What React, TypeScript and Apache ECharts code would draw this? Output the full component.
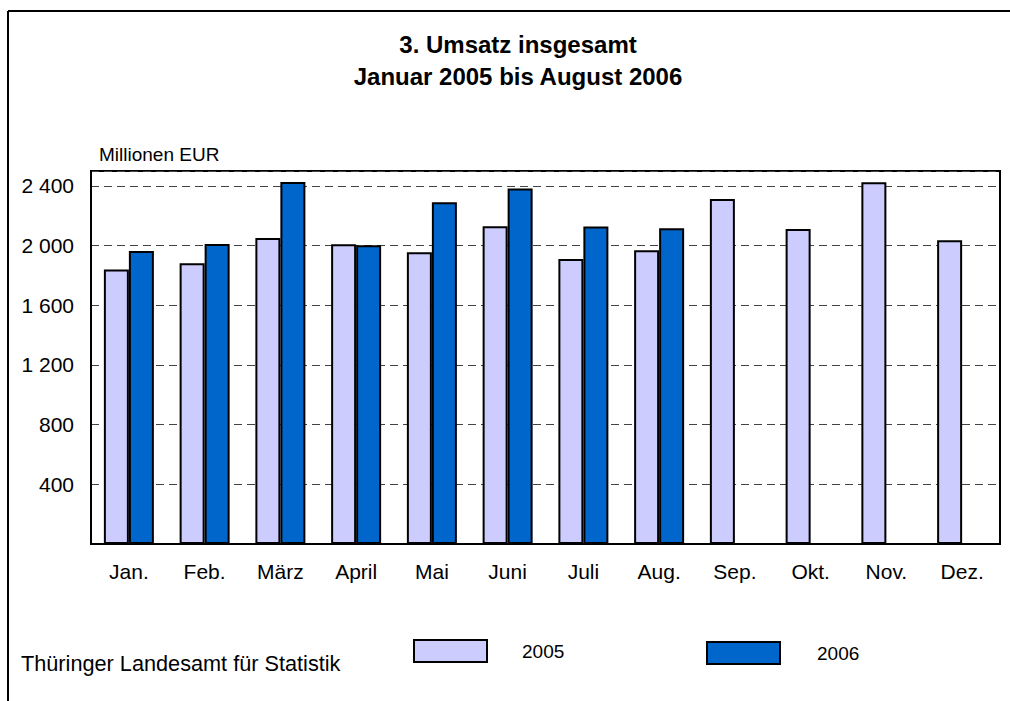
import React, { useEffect, useRef } from "react";
import * as echarts from "echarts";

const months = ["Jan.", "Feb.", "März", "April", "Mai", "Juni", "Juli", "Aug.", "Sep.", "Okt.", "Nov.", "Dez."];
const values2005 = [1840, 1881, 2051, 2009, 1955, 2130, 1910, 1968, 2312, 2112, 2425, 2036];
const values2006: (number | null)[] = [1964, 2011, 2427, 2002, 2290, 2382, 2128, 2117, null, null, null, null];
const yTicks = { min: 0, max: 2500, interval: 400 };
const FONT = "'Liberation Sans', Arial, sans-serif";

function fmt(v: number): string {
  if (v === 0 || v > 2400) return "";
  if (v >= 1000) return `${Math.floor(v / 1000)} ${String(v % 1000).padStart(3, "0")}`;
  return String(v);
}

export default function App() {
  const ref = useRef<HTMLDivElement>(null);
  useEffect(() => {
    if (!ref.current) return;
    const chart = echarts.init(ref.current, null, { renderer: "svg" });
    const barStyle = (color: string) => ({ color, borderColor: "#000", borderWidth: 2 });
    chart.setOption({
      animation: false,
      backgroundColor: "#fff",
      grid: {
        left: 91, top: 171, right: 10, bottom: 157,
        show: true, borderColor: "#000", borderWidth: 2, containLabel: false,
      },
      xAxis: {
        type: "category",
        data: months,
        axisLine: { show: true, lineStyle: { color: "#000", width: 2 } },
        axisTick: { show: false },
        axisLabel: { color: "#000", fontSize: 21, fontFamily: FONT, margin: 17 },
        splitLine: { show: false },
      },
      yAxis: {
        type: "value",
        min: yTicks.min,
        max: yTicks.max,
        interval: yTicks.interval,
        axisLine: { show: true, lineStyle: { color: "#000", width: 2 } },
        axisTick: { show: false },
        axisLabel: { color: "#000", fontSize: 21, fontFamily: FONT, margin: 17, formatter: fmt },
        splitLine: { show: true, lineStyle: { color: "#444", width: 1, type: [8, 5] } },
      },
      legend: [
        {
          data: ["2005"], left: 413, top: 639, padding: 0, itemWidth: 73, itemHeight: 22,
          icon: "rect", selectedMode: false,
          textStyle: { color: "#000", fontSize: 19, fontFamily: FONT, padding: [0, 0, 0, 30] },
        },
        {
          data: ["2006"], left: 706, top: 641, padding: 0, itemWidth: 73, itemHeight: 22,
          icon: "rect", selectedMode: false,
          textStyle: { color: "#000", fontSize: 19, fontFamily: FONT, padding: [0, 0, 0, 32] },
        },
      ],
      series: [
        { name: "2005", type: "bar", data: values2005, barWidth: 25, barGap: "0%", itemStyle: barStyle("#CCCCFF") },
        { name: "2006", type: "bar", data: values2006, barWidth: 25, barGap: "0%", itemStyle: barStyle("#0066CC") },
      ],
      graphic: [
        { type: "line", shape: { x1: 8, y1: 11, x2: 1012, y2: 11 }, style: { stroke: "#000", lineWidth: 2 } },
        { type: "line", shape: { x1: 8, y1: 11, x2: 8, y2: 705 }, style: { stroke: "#000", lineWidth: 2 } },
        {
          type: "text", x: 518, y: 44,
          style: { text: "3. Umsatz insgesamt", fill: "#000", font: `bold 24px ${FONT}`, textAlign: "center", textVerticalAlign: "middle" },
        },
        {
          type: "text", x: 518, y: 76,
          style: { text: "Januar 2005 bis August 2006", fill: "#000", font: `bold 24px ${FONT}`, textAlign: "center", textVerticalAlign: "middle" },
        },
        {
          type: "text", x: 99, y: 154,
          style: { text: "Millionen EUR", fill: "#000", font: `19px ${FONT}`, textAlign: "left", textVerticalAlign: "middle" },
        },
        {
          type: "text", x: 21, y: 663,
          style: { text: "Thüringer Landesamt für Statistik", fill: "#000", font: `21.7px ${FONT}`, textAlign: "left", textVerticalAlign: "middle" },
        },
      ],
    });
    return () => chart.dispose();
  }, []);
  return <div ref={ref} style={{ position: "absolute", left: 0, top: 0, width: 1010, height: 701 }} />;
}
